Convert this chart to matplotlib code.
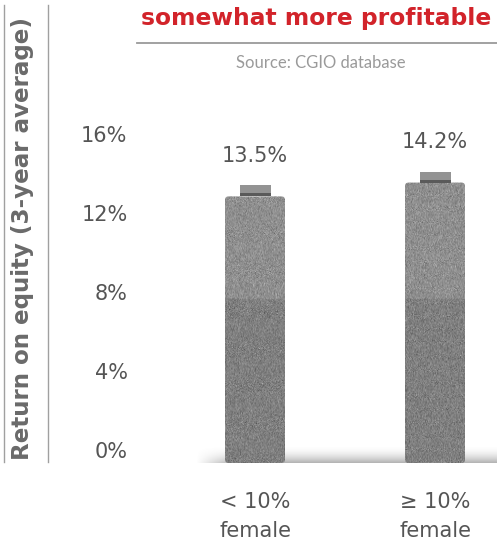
import numpy as np
import matplotlib
matplotlib.use("Agg")
import matplotlib.pyplot as plt
from matplotlib.patches import Rectangle, FancyBboxPatch
from matplotlib.transforms import ScaledTranslation
from matplotlib.colors import LinearSegmentedColormap

# Data
categories = ["< 10%\nfemale", "\u2265 10%\nfemale"]
roe_values = [13.5, 14.2]
value_labels = ["13.5%", "14.2%"]
y_ticks = [0, 4, 8, 12, 16]
y_tick_labels = ["0%", "4%", "8%", "12%", "16%"]

title = "somewhat more profitable"
source = "Source: CGIO database"
ylabel = "Return on equity (3-year average)"

W, H = 497, 546
fig = plt.figure(figsize=(W / 100, H / 100), dpi=100)
fig.patch.set_facecolor("white")

ax_left, ax_bottom, ax_top = 140, 463, 100
ax = fig.add_axes([ax_left / W, (H - ax_bottom) / H, (W - ax_left) / W, (ax_bottom - ax_top) / H])
px_per_unit_y = 19.75
ax.set_ylim(0, (ax_bottom - ax_top) / px_per_unit_y)
px_per_unit_x = 180
ax.set_xlim(-(255 - ax_left) / px_per_unit_x, (W - 255) / px_per_unit_x)
for s in ax.spines.values():
    s.set_visible(False)
ax.set_xticks([])

# y ticks
ax.set_yticks(y_ticks)
ax.set_yticklabels(y_tick_labels, fontsize=15, color="#555555", family="DejaVu Sans")
ax.tick_params(axis="y", length=0, pad=9)
shift = ScaledTranslation(0, 13 / 100, fig.dpi_scale_trans)
for lbl in ax.get_yticklabels():
    lbl.set_transform(lbl.get_transform() + shift)

# soft shadow along the baseline
shadow_cmap = LinearSegmentedColormap.from_list("sh", [(0.5, 0.5, 0.5, 0.0), (0.5, 0.5, 0.5, 0.6)])
gy = (1 - np.linspace(0, 1, 40)[:, None]) ** 2.0
gx = np.clip(np.linspace(0, 1, 200)[None, :] / 0.12, 0, 1)
shadow = gy * gx
ax.imshow(shadow, extent=(-0.33, ax.get_xlim()[1], 0.0, 0.9), origin="lower",
          cmap=shadow_cmap, aspect="auto", interpolation="bilinear", zorder=1, vmin=0, vmax=1)

rng = np.random.default_rng(7)
bar_w = 60 / px_per_unit_x
cap_w = 31 / px_per_unit_x
cap_h = 11 / px_per_unit_y
for i, v in enumerate(roe_values):
    x0 = i - bar_w / 2
    body = FancyBboxPatch((x0, 0), bar_w, v, boxstyle="round,pad=0,rounding_size=0.02",
                          mutation_aspect=px_per_unit_x / px_per_unit_y,
                          facecolor="none", edgecolor="none", zorder=3)
    ax.add_patch(body)
    # grainy fill: lighter upper part, darker lower part
    ny, nx = 260, 60
    yy = np.linspace(0, v, ny)[:, None]
    base = np.where(yy > 8.3, 0.56, 0.50)
    tex = base + rng.normal(0, 0.045, (ny, nx))
    im = ax.imshow(np.clip(tex, 0, 1), extent=(x0, x0 + bar_w, 0, v), origin="lower",
                   cmap="gray", vmin=0, vmax=1, aspect="auto", interpolation="bilinear", zorder=3)
    im.set_clip_path(body)
    # cap on top of the bar
    ax.add_patch(Rectangle((i - cap_w / 2, v), cap_w, cap_h,
                           facecolor="#939393", edgecolor="none", zorder=4))
    ax.add_patch(Rectangle((i - cap_w / 2, v), cap_w, 3 / px_per_unit_y,
                           facecolor="#5a5a5a", edgecolor="none", zorder=5))
    ax.text(i, v + cap_h + 1.5, value_labels[i], ha="center", va="center",
            fontsize=15, color="#555555", zorder=6)
    ax.text(i, -2.7, categories[i], ha="center", va="center", fontsize=15,
            color="#555555", linespacing=1.6, clip_on=False)

# header
fig.text(141 / W, 1 - 18 / H, title, ha="left", va="center", fontsize=16.8,
         fontweight="bold", color="#d2232a")
fig.add_artist(plt.Line2D([137 / W, 1], [1 - 43 / H, 1 - 43 / H], color="#9a9a9a", lw=1.3))
fig.text(321 / W, 1 - 63 / H, source, ha="center", va="center", fontsize=12,
         color="#9a9a9a", family="Lato")

# y axis title between two rules
fig.text(23 / W, 1 - 238 / H, ylabel, rotation=90, ha="center", va="center",
         fontsize=16.6, fontweight="bold", color="#6a6a6a")
for xx in (4, 48):
    fig.add_artist(plt.Line2D([xx / W, xx / W], [1 - 5 / H, 1 - 462 / H], color="#a0a0a0", lw=1.0))

fig.savefig("out.png", dpi=100)
